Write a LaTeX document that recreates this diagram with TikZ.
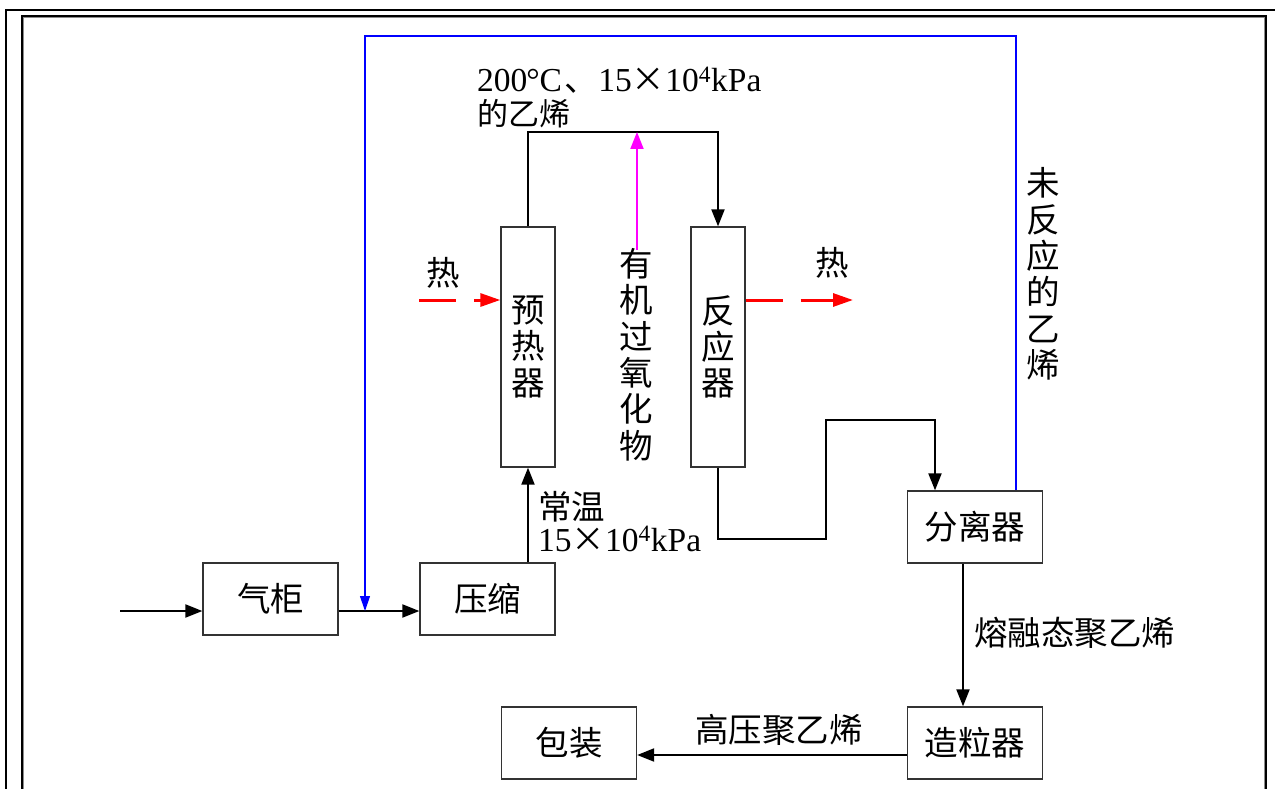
\documentclass[tikz,border=0pt]{standalone}
\usepackage{fontspec}
\setmainfont{Liberation Serif}
\newfontfamily\cjk{Noto Sans CJK SC}
\usetikzlibrary{arrows.meta,calc}
\definecolor{pmag}{RGB}{255,0,255}
\definecolor{pblue}{RGB}{0,0,255}
\definecolor{pred}{RGB}{255,0,0}
\newcommand{\fw}[1]{\makebox[1em]{\cjk #1}}
\newcommand{\fwl}[1]{\makebox[1em]{#1}}
\newcommand{\tightlines}{\lineskiplimit=-60pt\relax\lineskip=0pt\relax}
\tikzset{
  txt/.style={inner sep=0pt, align=center, font=\cjk\fontsize{33.5}{36.4}\selectfont},
  lat/.style={inner sep=0pt, font=\fontsize{33.5}{36}\selectfont},
  box/.style={txt, draw=black!80, line width=1.3pt, minimum width=135pt, minimum height=72pt},
  col/.style={txt, draw=black!80, line width=1.3pt, minimum width=54pt, minimum height=240pt},
  flow/.style={line width=2pt, -{Triangle[length=17pt,width=13pt]}},
  pipe/.style={line width=2pt},
  recyc/.style={pblue, line width=1.2pt, -{Triangle[length=15pt,width=10pt]}},
  perox/.style={pmag, line width=2pt, -{Triangle[length=17pt,width=13pt]}},
  heat/.style={pred, line width=3pt, dash pattern=on 37pt off 18pt, -{Triangle[length=20pt,width=13pt]}},
  frame/.style={line width=2.5pt}
}
\begin{document}
\begin{tikzpicture}[x=1pt,y=-1pt]
\useasboundingbox (0,0) rectangle (1275,789);
\clip (0,0) rectangle (1275,789);
% frames
\draw[frame] (6,800) -- (6,10) -- (1290,10);
\draw[black!45, line width=1pt] (23.5,800) -- (23.5,17.5) -- (1264.5,17.5) -- (1264.5,800);
\draw[line width=1.8pt] (22,800) -- (22,16) -- (1266,16) -- (1266,800);

% boxes
\node[box] (qg) at (270.5,599) {气柜};
\node[box] (ys) at (487.5,599) {压缩};
\node[col] (yr) at (528,347) {预\\热\\器};
\node[col] (fy) at (718,347) {反\\应\\器};
\node[box] (fl) at (975,527) {分离器};
\node[box] (zl) at (975,743) {造粒器};
\node[box] (bz) at (569,743) {包装};

% labels
\node[txt] (hl) at (443,273) {热};
\node[txt] (hr) at (832,263) {热};
\node[txt] (org) at (636,354.5) {有\\机\\过\\氧\\化\\物};
\node[txt] (unr) at (1043,274) {未\\反\\应\\的\\乙\\烯};
\node[inner sep=0pt, align=left, anchor=north west,
      font=\fontsize{33.5}{34}\selectfont] (t1) at (477,66)
  {\tightlines\rule{0pt}{25pt}200\fwl{°C}\hspace{4pt}\fw{、}15\fw{×}10\textsuperscript{4}kPa\\{\cjk\fontsize{31}{34}\selectfont 的乙烯}};
\node[txt, anchor=base west] (c1) at (538,519) {常温};
\node[lat, anchor=base west] (c2) at (538,551) {15\fw{×}10\textsuperscript{4}kPa};
\node[txt, anchor=west] (melt) at (974,633) {熔融态聚乙烯};
\node[txt] (hp) at (779,730) {高压聚乙烯};

% coordinates
\coordinate (in) at (120,611);
\coordinate (j) at (365,611);
\coordinate (top) at (0,132);
\coordinate (mg) at (637,250);
\coordinate (hin) at (419,300);
\coordinate (hout) at (853,300);
\coordinate (r1) at (718,539);
\coordinate (r2) at (826,420);
\coordinate (fin) at (935,491);
\coordinate (bl) at (1016,491);
\coordinate (btop) at (0,36);
\coordinate (ga) at (963,0);
\coordinate (pk) at (0,755);

% connectors
\draw[flow] (in) -- (in -| qg.west);
\draw[flow] (j -| qg.east) -- (j -| ys.west);
\draw[flow] (yr.south |- ys.north) -- (yr.south);
\draw[pipe, -{Triangle[length=17pt,width=13pt]}] (yr.north) -- (yr.north |- top) -- (fy.north |- top) -- (fy.north);
\draw[perox] (mg) -- (mg |- top);
\draw[heat] (hin) -- (hin -| yr.west);
\draw[heat] (hout -| fy.east) -- (hout);
\draw[pipe, -{Triangle[length=17pt,width=13pt]}] (fy.south) -- (r1) -- (r1 -| r2) -- (r2) -- (r2 -| fin) -- (fin |- fl.north);
\draw[recyc] (bl |- fl.north) -- (bl |- btop) -- (j |- btop) -- (j);
\draw[flow] (ga |- fl.south) -- (ga |- zl.north);
\draw[flow] (pk -| zl.west) -- (pk -| bz.east);
\end{tikzpicture}
\end{document}
